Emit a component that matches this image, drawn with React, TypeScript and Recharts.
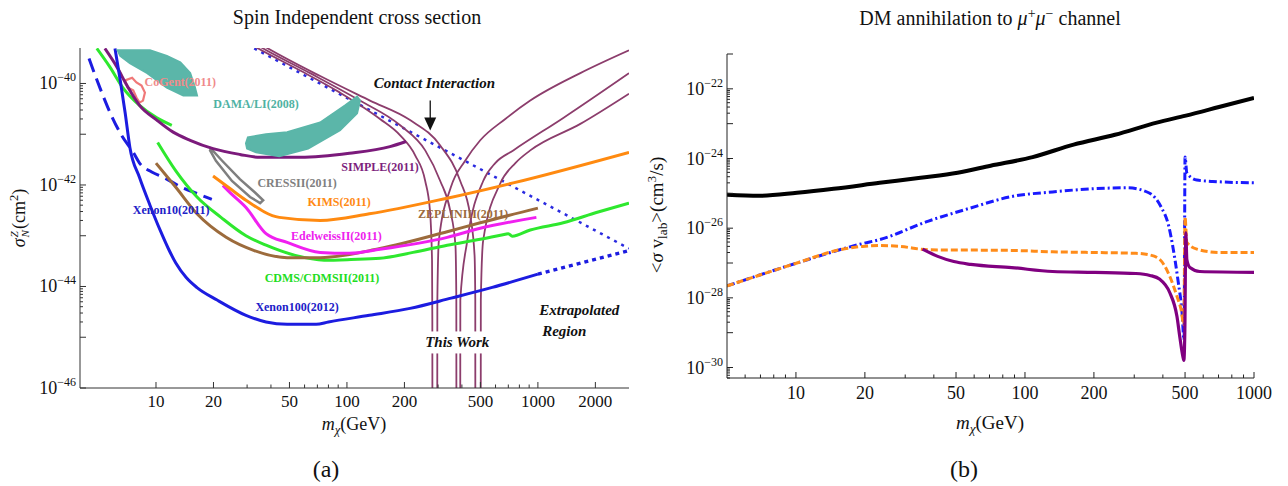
import React from 'react';
import { ComposedChart, Line, Scatter, XAxis, YAxis, ReferenceDot, Curve } from 'recharts';

const FONT = '"Liberation Serif", "Times New Roman", serif';

// ---------- panel (a): m = WIMP mass (GeV), s = sigma_N (cm^2)
const damaBlobA = [[6.3, 4.5e-40], [9.3, 4.5e-40], [11.4, 3.5e-40], [13.4, 2.6e-40], [15.1, 1.6e-40], [16.0, 8.3e-41], [16.4, 5.8e-41], [13.9, 5.8e-41], [11.4, 8.3e-41], [9.0, 1.6e-40], [7.3, 2.5e-40], [6.5, 3.5e-40]];
const damaBlobB = [[29.6, 6.6e-42], [30.3, 8.7e-42], [37.7, 1.0e-41], [48.6, 1.1e-41], [72.4, 1.7e-41], [98, 3.7e-41], [113, 5.5e-41], [117, 4.6e-41], [113, 2.6e-41], [92, 1.2e-41], [62.6, 5.2e-42], [44.2, 3.7e-42], [33.4, 4.4e-42], [30, 5.2e-42]];
const cogent = [[6.9, 1.15e-40], [7.5, 1.3e-40], [7.9, 1.05e-40], [8.4, 9.1e-41], [8.75, 6.6e-41], [8.55, 4.6e-41], [8.2, 4.2e-41], [7.9, 5.3e-41], [7.6, 7.3e-41], [7.1, 8.3e-41]];
const cresst = [[19.4, 5.2e-42], [22.2, 3.0e-42], [27.5, 1.3e-42], [33.0, 7.1e-43], [36.4, 5.0e-43], [35.1, 4.4e-43], [31.1, 5.8e-43], [25.0, 1.2e-42], [20.6, 3.0e-42], [19.2, 4.8e-42]];
const contactLine = [[32.7, 4.9e-40], [3000, 5.6e-44]];
const xenon100 = [[6.1, 4.9e-40], [6.5, 1.15e-40], [6.9, 2.6e-41], [7.3, 5.5e-42], [8.2, 1.4e-42], [9.3, 4.0e-43], [10.5, 1.3e-43], [11.6, 5.6e-44], [12.7, 2.9e-44], [14.4, 1.5e-44], [16.4, 9.5e-45], [20.9, 5.4e-45], [29.6, 2.7e-45], [37.7, 2.0e-45], [48.6, 1.8e-45], [69, 1.8e-45], [80, 2.0e-45], [131, 2.7e-45], [214, 3.7e-45], [351, 5.9e-45], [577, 9.6e-45], [1000, 1.75e-44]];
const xenon100Extrap = [[1000, 1.75e-44], [3000, 5.1e-44]];
const xenon10 = [[4.46, 3.1e-40], [5.1, 8.0e-41], [5.74, 2.7e-41], [6.6, 9.5e-42], [7.6, 4.4e-42], [8.2, 2.7e-42], [9.5, 1.8e-42], [11.0, 1.4e-42], [13.4, 9.3e-43], [16.4, 6.8e-43], [19.6, 5.2e-43]];
const cdmsLow = [[4.9, 4.9e-40], [5.74, 2.1e-40], [6.7, 8.3e-41], [8.2, 3.7e-41], [10.1, 2.1e-41], [12.1, 1.5e-41]];
const cdms = [[10.2, 6.9e-42], [12.7, 1.9e-42], [16.4, 5.8e-43], [21.9, 2.3e-43], [29.6, 1.0e-43], [37.7, 6.5e-44], [53.6, 4.1e-44], [75.9, 3.3e-44], [105, 3.4e-44], [149, 3.6e-44], [222, 4.7e-44], [335, 6.5e-44], [499, 8.5e-44], [675, 1.07e-43], [700, 1.1e-43], [734, 9.8e-44], [912, 1.3e-43], [1358, 1.8e-43], [2046, 2.9e-43], [3000, 4.4e-43]];
const simple = [[5.4, 4.9e-40], [6.25, 2.1e-40], [7.05, 9.1e-41], [8.2, 3.7e-41], [10.1, 1.9e-41], [12.3, 1.1e-41], [15.1, 7.6e-42], [19.9, 5.2e-42], [27.5, 4.0e-42], [35.1, 3.5e-42], [57, 3.5e-42], [103, 4.2e-42], [168, 5.7e-42], [204, 7.2e-42]];
const zeplin = [[10, 2.7e-42], [12.7, 9.0e-43], [16.4, 2.7e-43], [23.3, 9.3e-44], [32.7, 5.1e-44], [48.6, 3.7e-44], [72.4, 3.7e-44], [149, 5.6e-44], [335, 1.2e-43], [499, 1.8e-43], [1000, 3.5e-43]];
const edelweiss = [[22.4, 9.8e-43], [24.5, 7.0e-43], [29.6, 3.6e-43], [37.7, 1.1e-43], [48.6, 7.4e-44], [72.4, 4.7e-44], [103, 4.5e-44], [149, 5.4e-44], [335, 9.3e-44], [499, 1.4e-43], [982, 2.3e-43]];
const kims = [[19.9, 1.5e-42], [24.4, 8.5e-43], [29.6, 5.0e-43], [44.2, 2.3e-43], [72.4, 2.0e-43], [131, 2.7e-43], [335, 5.5e-43], [743, 1.1e-42], [3000, 4.4e-42]];
const thisWorkDown1 = [[32.5, 5.5e-40], [34.3, 4.9e-40], [56.9, 1.8e-40], [92, 6.6e-41], [149, 2.0e-41], [190, 9.5e-42], [228, 3.8e-42], [257, 1.2e-42], [272, 3.2e-43], [279, 3.3e-44], [280, 2.1e-45], [280.4, 1e-47]];
const thisWorkDown2 = [[34.5, 5.5e-40], [36.4, 4.9e-40], [64.1, 1.6e-40], [117, 4.6e-41], [190, 1.5e-41], [257, 4.8e-42], [308, 1.2e-42], [347, 3.2e-43], [370, 6.5e-44], [374, 5.4e-45], [374.4, 1e-47]];
const thisWorkDown3 = [[36.6, 5.5e-40], [38.6, 4.9e-40], [72.4, 1.4e-40], [132, 4.6e-41], [214, 1.9e-41], [308, 6.0e-42], [392, 1.2e-42], [442, 2.5e-43], [466, 4.1e-44], [470, 5.4e-45], [470.4, 1e-47]];
const thisWorkUp1 = [[297, 1e-47], [297.5, 5.4e-45], [303, 8.1e-44], [350, 9.0e-43], [416, 3.0e-42], [499, 7.6e-42], [675, 2.0e-41], [912, 4.6e-41], [1668, 1.6e-40], [3000, 4.5e-40]];
const thisWorkUp2 = [[392, 1e-47], [392.5, 5.4e-45], [427, 8.1e-44], [517, 1.2e-42], [598, 2.7e-42], [743, 4.8e-42], [1358, 2.1e-41], [3000, 1.6e-40]];
const thisWorkUp3 = [[502, 1e-47], [502.5, 5.4e-45], [517, 8.1e-44], [635, 1.07e-42], [762, 2.7e-42], [912, 4.8e-42], [1668, 1.6e-41], [3000, 6.3e-41]];

const leftLabels = [
  { text: 'CoGent(2011)', m: 13.4, s: 1.05e-40, color: '#f08a8a' },
  { text: 'DAMA/LI(2008)', m: 33.4, s: 3.9e-41, color: '#4fb2a3' },
  { text: 'SIMPLE(2011)', m: 149, s: 2.3e-42, color: '#7d1f7d' },
  { text: 'CRESSII(2011)', m: 54.8, s: 1.1e-42, color: '#808080' },
  { text: 'KIMS(2011)', m: 91, s: 4.6e-43, color: '#ff8a14' },
  { text: 'ZEPLINIII(2011)', m: 406, s: 2.7e-43, color: '#9c6b3c' },
  { text: 'Xenon10(2011)', m: 12, s: 3.2e-43, color: '#2020c8' },
  { text: 'EdelweissII(2011)', m: 88, s: 9.8e-44, color: '#ee22ee' },
  { text: 'CDMS/CDMSII(2011)', m: 74, s: 1.44e-44, color: '#22dd22' },
  { text: 'Xenon100(2012)', m: 54.8, s: 3.9e-45, color: '#2020c8' },
];
const leftNotes = [
  { text: 'Contact Interaction', m: 287, s: 1e-40 },
  { text: 'Extrapolated', m: 1648, s: 3.5e-45 },
  { text: 'Region', m: 1374, s: 1.3e-45 },
];

const LEFT_X_DOMAIN = [4, 3000];
const LEFT_Y_DOMAIN = [1e-46, 5e-40];
const LEFT_X_LABELS = [10, 20, 50, 100, 200, 500, 1000, 2000];
const LEFT_X_MINOR = [30, 40, 60, 70, 80, 90, 300, 400, 600, 700, 800, 900];
const LEFT_Y_LABELS = [1e-46, 1e-44, 1e-42, 1e-40];
const LEFT_Y_DECADES = [1e-45, 1e-43, 1e-41];

// ---------- panel (b): m = DM mass (GeV), s = <sigma v> (cm^3/s)
const annBound = [[5, 9.1e-26], [6.9, 8.5e-26], [10.1, 1.04e-25], [14.6, 1.35e-25], [23.2, 2.0e-25], [35, 2.8e-25], [50.8, 3.9e-25], [70.8, 6.2e-25], [108, 1.1e-24], [163, 2.5e-24], [247, 4.8e-24], [376, 1.07e-23], [504, 1.7e-23], [703, 3.0e-23], [1000, 5.5e-23]];
const annBlue = [[5, 2.2e-28], [10.1, 1.0e-27], [19.5, 3.6e-27], [23.2, 4.7e-27], [37.9, 1.6e-26], [57.9, 3.8e-26], [87.5, 8.1e-26], [132, 1.1e-25], [202, 1.36e-25], [281, 1.44e-25], [347, 1.04e-25], [392, 4.2e-26], [425, 1.1e-26], [442, 3.0e-27], [465, 3.4e-28], [485, 3.8e-29], [495, 6e-30], [500, 1.1e-24], [509, 3.9e-25], [563, 2.4e-25], [661, 2.2e-25], [1000, 2.0e-25]];
const annOrange = [[5, 2.2e-28], [10.1, 1.0e-27], [15.5, 2.4e-27], [19.5, 3.0e-27], [23.2, 3.2e-27], [28.3, 3.0e-27], [37.9, 2.4e-27], [87.5, 2.3e-27], [132, 2.1e-27], [202, 2.0e-27], [305, 1.9e-27], [351, 1.7e-27], [388, 1.26e-27], [429, 4.1e-28], [461, 1.1e-28], [480, 4.7e-29], [494, 1.7e-29], [500, 2.1e-26], [509, 3.9e-27], [563, 2.5e-27], [709, 2.0e-27], [1000, 2.0e-27]];
const annPurple = [[35.7, 2.5e-27], [41.6, 1.55e-27], [48.9, 1.1e-27], [58, 9.1e-28], [87.5, 7.4e-28], [132, 5.7e-28], [202, 5.4e-28], [305, 5.0e-28], [351, 4.4e-28], [388, 3.4e-28], [429, 1.4e-28], [461, 2.9e-29], [474, 7.8e-30], [489, 2.1e-30], [494, 1.6e-30], [499, 1.2e-29], [504, 7.4e-27], [509, 1.26e-27], [525, 7.4e-28], [580, 5.7e-28], [1000, 5.4e-28]];

const RIGHT_X_DOMAIN = [5, 1000];
const RIGHT_Y_DOMAIN = [5e-31, 1e-21];
const RIGHT_X_LABELS = [10, 20, 50, 100, 200, 500, 1000];
const RIGHT_X_MINOR = [6, 7, 8, 9, 30, 40, 60, 70, 80, 90, 300, 400, 600, 700, 800, 900];
const RIGHT_Y_LABELS = [1e-30, 1e-28, 1e-26, 1e-24, 1e-22];
const RIGHT_Y_DECADES = [1e-29, 1e-27, 1e-25, 1e-23, 1e-21];

const pts = (rows: number[][]) => rows.map(([m, s]) => ({ m, s }));

const yTicks = (labels: number[], decades: number[], dom: number[]) =>
  [...labels, ...decades, ...labels.flatMap((l) => [2, 3, 4, 5, 6, 7, 8, 9].map((k) => (k * l) / 10))].filter(
    (v) => v >= dom[0] * 0.999 && v <= dom[1] * 1.001
  );

const XTick = (props: any) => {
  const { x, y, payload, labels, top, color, fontSize, gap } = props;
  const v = payload.value;
  const major = labels.includes(v);
  const len = major ? 6 : 3.5;
  return (
    <g>
      <line x1={x} x2={x} y1={y} y2={top ? y + len : y - len} stroke={color} strokeWidth={1} />
      {!top && major ? (
        <text x={x} y={y + gap} textAnchor="middle" fontFamily={FONT} fontSize={fontSize} fill="#111">
          {v}
        </text>
      ) : null}
    </g>
  );
};

const YTick = (props: any) => {
  const { x, y, payload, labels, decades, right, color } = props;
  const v = payload.value;
  const labeled = labels.includes(v);
  const len = labeled || decades.includes(v) ? 6 : 3;
  const exp = Math.round(Math.log10(v));
  return (
    <g>
      <line x1={x} x2={right ? x - len : x + len} y1={y} y2={y} stroke={color} strokeWidth={1} />
      {!right && labeled ? (
        <text x={x - 4} y={y + 6} textAnchor="end" fontFamily={FONT} fontSize={18} fill="#111">
          10
          <tspan fontSize={12} dy={-8}>{`\u2212${-exp}`}</tspan>
        </text>
      ) : null}
    </g>
  );
};

const noDot = () => <g />;

const Txt = ({ x, y, size, rotate, children, style }: any) => (
  <div
    style={{
      position: 'absolute',
      left: x,
      top: y,
      transform: `translate(-50%, -50%)${rotate ? ' rotate(-90deg)' : ''}`,
      fontFamily: FONT,
      fontSize: size,
      lineHeight: 1,
      whiteSpace: 'nowrap',
      color: '#111',
      ...style,
    }}
  >
    {children}
  </div>
);

const sub = { fontSize: '0.7em', verticalAlign: '-0.3em' };
const sup = { fontSize: '0.7em', verticalAlign: '0.5em' };

function SpinPanel() {
  const xt = [...LEFT_X_LABELS, ...LEFT_X_MINOR];
  const yt = yTicks(LEFT_Y_LABELS, LEFT_Y_DECADES, LEFT_Y_DOMAIN);
  const ax = { xAxisId: 'b', yAxisId: 'l', isAnimationActive: false, dot: false, activeDot: false } as any;
  const mauve = { stroke: '#8c3d6c', strokeWidth: 1.8, type: 'monotone' };
  return (
    <ComposedChart width={650} height={486} margin={{ top: 48, right: 21, bottom: 48, left: 10 }}>
      <XAxis xAxisId="b" dataKey="m" type="number" scale="log" domain={LEFT_X_DOMAIN} allowDataOverflow ticks={xt} interval={0}
        tickSize={0} tickMargin={0} tickLine={false} height={50} axisLine={{ stroke: '#333' }}
        tick={(p: any) => <XTick {...p} labels={LEFT_X_LABELS} color="#333" fontSize={17} gap={19} />} />
      <XAxis xAxisId="t" orientation="top" dataKey="m" type="number" scale="log" domain={LEFT_X_DOMAIN} allowDataOverflow ticks={xt} interval={0}
        tickSize={0} tickMargin={0} tickLine={false} height={0} axisLine={{ stroke: '#555' }}
        tick={(p: any) => <XTick {...p} labels={LEFT_X_LABELS} top color="#555" />} />
      <YAxis yAxisId="l" type="number" scale="log" domain={LEFT_Y_DOMAIN} allowDataOverflow ticks={yt} interval={0}
        tickSize={0} tickMargin={0} tickLine={false} width={70} axisLine={{ stroke: '#333' }}
        tick={(p: any) => <YTick {...p} labels={LEFT_Y_LABELS} decades={LEFT_Y_DECADES} color="#333" />} />
      <YAxis yAxisId="r" orientation="right" type="number" scale="log" domain={LEFT_Y_DOMAIN} allowDataOverflow ticks={yt} interval={0}
        tickSize={0} tickMargin={0} tickLine={false} width={0} axisLine={{ stroke: '#888' }}
        tick={(p: any) => <YTick {...p} labels={LEFT_Y_LABELS} decades={LEFT_Y_DECADES} right color="#888" />} />

      {[damaBlobA, damaBlobB].map((blob, i) => (
        <Scatter key={`dama${i}`} data={pts(blob)} dataKey="s" xAxisId="b" yAxisId="l" isAnimationActive={false}
          fill="#5bb6a9" shape={noDot}
          line={(p: any) => <Curve points={p.points} type="linearClosed" fill="#5bb6a9" stroke="#5bb6a9" strokeWidth={2} />} />
      ))}

      <Line {...ax} data={pts(contactLine)} dataKey="s" stroke="#2a2ae0" strokeWidth={2.5} strokeDasharray="3 5" type="linear" />
      {[thisWorkDown1, thisWorkDown2, thisWorkDown3, thisWorkUp1, thisWorkUp2, thisWorkUp3].map((d, i) => (
        <Line key={`tw${i}`} {...ax} {...mauve} data={pts(d)} dataKey="s" />
      ))}
      <Line {...ax} data={pts(xenon10)} dataKey="s" stroke="#1c1ce0" strokeWidth={3} strokeDasharray="14 7" type="monotone" />
      <Line {...ax} data={pts(cdmsLow)} dataKey="s" stroke="#2ee82e" strokeWidth={3} type="monotone" />
      <Line {...ax} data={pts(cdms)} dataKey="s" stroke="#2ee82e" strokeWidth={3} type="monotone" />
      <Line {...ax} data={pts(zeplin)} dataKey="s" stroke="#9c6b3c" strokeWidth={3} type="monotone" />
      <Line {...ax} data={pts(edelweiss)} dataKey="s" stroke="#f020f0" strokeWidth={3} type="monotone" />
      <Line {...ax} data={pts(kims)} dataKey="s" stroke="#ff8a10" strokeWidth={3} type="monotone" />
      <Line {...ax} data={pts(cresst)} dataKey="s" stroke="#7f7f7f" strokeWidth={2.5} type="linearClosed" />
      <Line {...ax} data={pts(cogent)} dataKey="s" stroke="#f07878" strokeWidth={2.2} type="linearClosed" />
      <Line {...ax} data={pts(simple)} dataKey="s" stroke="#7b1a7b" strokeWidth={3} type="monotone" />
      <Line {...ax} data={pts(xenon100)} dataKey="s" stroke="#1c1ce0" strokeWidth={3} type="monotone" />
      <Line {...ax} data={pts(xenon100Extrap)} dataKey="s" stroke="#1c1ce0" strokeWidth={3.5} strokeDasharray="4 4" type="linear" />

      {leftLabels.map((l) => (
        <ReferenceDot key={l.text} xAxisId="b" yAxisId="l" x={l.m} y={l.s} r={0}
          shape={(p: any) => (
            <text x={p.cx} y={p.cy + 4} textAnchor="middle" fontFamily={FONT} fontWeight={700} fontSize={12} fill={l.color}>
              {l.text}
            </text>
          )} />
      ))}
      {leftNotes.map((l) => (
        <ReferenceDot key={l.text} xAxisId="b" yAxisId="l" x={l.m} y={l.s} r={0}
          shape={(p: any) => (
            <text x={p.cx} y={p.cy + 5} textAnchor="middle" fontFamily={FONT} fontWeight={700} fontStyle="italic" fontSize={15} fill="#111">
              {l.text}
            </text>
          )} />
      ))}
      <ReferenceDot xAxisId="b" yAxisId="l" x={378} y={7.9e-46} r={0}
        shape={(p: any) => (
          <g>
            <rect x={p.cx - 37} y={p.cy - 11} width={74} height={22} fill="#fff" />
            <text x={p.cx} y={p.cy + 5} textAnchor="middle" fontFamily={FONT} fontWeight={700} fontStyle="italic" fontSize={15} fill="#111">
              This Work
            </text>
          </g>
        )} />
      <ReferenceDot xAxisId="b" yAxisId="l" x={273} y={1.19e-41} r={0}
        shape={(p: any) => (
          <g>
            <line x1={p.cx} x2={p.cx} y1={p.cy - 30} y2={p.cy - 10} stroke="#111" strokeWidth={1.3} />
            <path d={`M${p.cx - 6},${p.cy - 13} L${p.cx + 6},${p.cy - 13} L${p.cx},${p.cy} Z`} fill="#111" />
          </g>
        )} />
    </ComposedChart>
  );
}

function AnnPanel() {
  const xt = [...RIGHT_X_LABELS, ...RIGHT_X_MINOR];
  const yt = yTicks(RIGHT_Y_LABELS, RIGHT_Y_DECADES, RIGHT_Y_DOMAIN);
  const ax = { xAxisId: 'b', yAxisId: 'l', isAnimationActive: false, dot: false, activeDot: false, type: 'monotone' } as any;
  return (
    <ComposedChart width={648} height={486} margin={{ top: 54, right: 34, bottom: 58, left: 17 }}>
      <XAxis xAxisId="b" dataKey="m" type="number" scale="log" domain={RIGHT_X_DOMAIN} allowDataOverflow ticks={xt} interval={0}
        tickSize={0} tickMargin={0} tickLine={false} height={50} axisLine={{ stroke: '#222' }}
        tick={(p: any) => <XTick {...p} labels={RIGHT_X_LABELS} color="#222" fontSize={18} gap={21} />} />
      <XAxis xAxisId="t" orientation="top" dataKey="m" type="number" scale="log" domain={RIGHT_X_DOMAIN} allowDataOverflow ticks={xt} interval={0}
        tickSize={0} tickMargin={0} tickLine={false} height={0} axisLine={{ stroke: '#222' }}
        tick={(p: any) => <XTick {...p} labels={RIGHT_X_LABELS} top color="#222" />} />
      <YAxis yAxisId="l" type="number" scale="log" domain={RIGHT_Y_DOMAIN} allowDataOverflow ticks={yt} interval={0}
        tickSize={0} tickMargin={0} tickLine={false} width={70} axisLine={{ stroke: '#222' }}
        tick={(p: any) => <YTick {...p} labels={RIGHT_Y_LABELS} decades={RIGHT_Y_DECADES} color="#222" />} />
      <YAxis yAxisId="r" orientation="right" type="number" scale="log" domain={RIGHT_Y_DOMAIN} allowDataOverflow ticks={yt} interval={0}
        tickSize={0} tickMargin={0} tickLine={false} width={0} axisLine={{ stroke: '#222' }}
        tick={(p: any) => <YTick {...p} labels={RIGHT_Y_LABELS} decades={RIGHT_Y_DECADES} right color="#222" />} />

      <Line {...ax} data={pts(annBound)} dataKey="s" stroke="#000" strokeWidth={4} />
      <Line {...ax} data={pts(annBlue)} dataKey="s" stroke="#1a1aff" strokeWidth={3} strokeDasharray="8 3 2 3" />
      <Line {...ax} data={pts(annOrange)} dataKey="s" stroke="#ff8c1a" strokeWidth={3} strokeDasharray="7 3" />
      <Line {...ax} data={pts(annPurple)} dataKey="s" stroke="#800080" strokeWidth={3.2} />
    </ComposedChart>
  );
}

export default function App() {
  return (
    <div style={{ position: 'absolute', left: 0, top: 0, width: 1288, height: 486, background: '#fff', overflow: 'hidden' }}>
      <div style={{ position: 'absolute', left: 0, top: 0 }}>
        <SpinPanel />
      </div>
      <div style={{ position: 'absolute', left: 640, top: 0 }}>
        <AnnPanel />
      </div>

      <Txt x={357} y={17} size={20}>Spin Independent cross section</Txt>
      <Txt x={990} y={17} size={20}>
        DM annihilation to <i>μ</i><span style={sup}>+</span><i>μ</i><span style={sup}>−</span> channel
      </Txt>

      <Txt x={354} y={426} size={18}>
        <i>m</i><span style={sub}><i>χ</i></span>(GeV)
      </Txt>
      <Txt x={990} y={424} size={19}>
        <i>m</i><span style={sub}><i>χ</i></span>(GeV)
      </Txt>

      <Txt x={20} y={218} size={18} rotate>
        <i>σ</i>
        <span style={{ display: 'inline-flex', flexDirection: 'column', fontSize: '0.62em', verticalAlign: 'middle', lineHeight: 1, margin: '0 1px' }}>
          <i>Z</i>
          <i>N</i>
        </span>
        (cm<span style={sup}>2</span>)
      </Txt>
      <Txt x={657} y={215} size={19} rotate>
        {'<'}<i>σ</i> v<span style={sub}>lab</span>{'>(cm'}<span style={sup}>3</span>{'/s)'}
      </Txt>

      <Txt x={326} y={469} size={24}>(a)</Txt>
      <Txt x={964} y={469} size={24}>(b)</Txt>
    </div>
  );
}
